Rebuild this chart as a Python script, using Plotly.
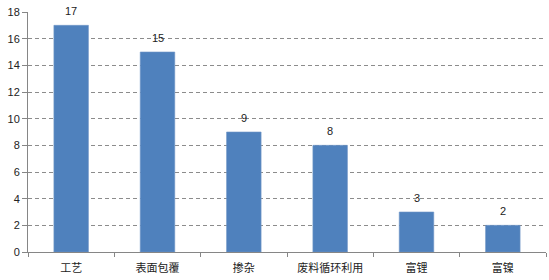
import plotly.graph_objects as go

categories = ["工艺", "表面包覆", "掺杂", "废料循环利用", "富锂", "富镍"]
values = [17, 15, 9, 8, 3, 2]
y_ticks = [0, 2, 4, 6, 8, 10, 12, 14, 16, 18]

fig = go.Figure(go.Bar(
    x=categories, y=values,
    marker=dict(color="#4F81BD", line=dict(color="#7096C6", width=0.6)),
    cliponaxis=False,
))

for c, v in zip(categories, values):
    fig.add_annotation(x=c, y=v, text=str(v), showarrow=False,
                       yanchor="bottom", yshift=6,
                       font=dict(size=11, color="#222222", family="Liberation Sans"))

fig.update_layout(
    width=549, height=280,
    margin=dict(l=28, r=3, t=12, b=28),
    paper_bgcolor="white", plot_bgcolor="white",
    bargap=0.6, showlegend=False,
    font=dict(family="Liberation Sans", size=11, color="#222222"),
)
fig.update_xaxes(
    showline=True, linecolor="#868686", linewidth=1,
    ticks="outside", tickson="boundaries", ticklen=4, tickcolor="#868686",
    tickfont=dict(family="Noto Sans CJK SC", size=11, color="#222222"),
    ticklabelstandoff=6,
    showgrid=False,
)
fig.update_yaxes(
    range=[0, 18], tickvals=y_ticks,
    showline=True, linecolor="#868686", linewidth=1,
    ticks="outside", ticklen=5, tickcolor="#868686",
    showgrid=True, gridcolor="#8C8C8C", griddash="4px,3px", gridwidth=1,
    zeroline=False,
    tickfont=dict(size=11, color="#222222"),
)

fig.write_html("out.html")
